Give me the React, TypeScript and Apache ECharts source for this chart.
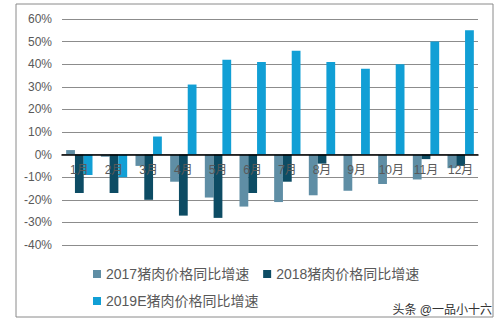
import React, { useEffect, useRef } from "react";
import * as echarts from "echarts";

const months = ["1月", "2月", "3月", "4月", "5月", "6月", "7月", "8月", "9月", "10月", "11月", "12月"];
const s2017 = [2, -1, -5, -12, -19, -23, -21, -18, -16, -13, -11, -6];
const s2018 = [-17, -17, -20, -27, -28, -17, -12, -4, 0, 0, -2, -5];
const s2019 = [-9, -10, 8, 31, 42, 41, 46, 41, 38, 40, 50, 55];
const seriesNames = ["2017猪肉价格同比增速", "2018猪肉价格同比增速", "2019E猪肉价格同比增速"];
const colors = ["#5f8ea5", "#0d4c64", "#119fd5"];
const FONT = "'Liberation Sans', 'Noto Sans CJK SC', sans-serif";

const Y_MIN = -40;
const Y_MAX = 60;
const GRID_TOP = 19;
const GRID_BOTTOM = 81;
const H = 326;

export default function App() {
  const ref = useRef<HTMLDivElement>(null);
  useEffect(() => {
    document.body.style.margin = "0";
    const chart = echarts.init(ref.current!, null, { renderer: "svg" });
    const values = [s2017, s2018, s2019];
    const gridH = H - GRID_TOP - GRID_BOTTOM;
    const zeroOffset = (-Y_MIN / (Y_MAX - Y_MIN)) * gridH;
    chart.setOption({
      animation: false,
      textStyle: { fontFamily: FONT },
      grid: { left: 62, right: 26, top: GRID_TOP, bottom: GRID_BOTTOM, containLabel: false },
      legend: [
        {
          data: [seriesNames[0], seriesNames[1]],
          left: 88,
          top: 262,
          itemWidth: 8,
          itemHeight: 8,
          itemGap: 14,
          icon: "rect",
          textStyle: { fontSize: 14, color: "#595959", fontFamily: FONT },
        },
        {
          data: [seriesNames[2]],
          left: 88,
          top: 289,
          itemWidth: 8,
          itemHeight: 8,
          icon: "rect",
          textStyle: { fontSize: 14, color: "#595959", fontFamily: FONT },
        },
      ],
      xAxis: {
        type: "category",
        data: months,
        offset: -zeroOffset,
        axisLine: { onZero: false, lineStyle: { color: "#000", width: 1.5 } },
        axisTick: { show: false },
        axisLabel: { color: "#595959", fontSize: 12, margin: 9 },
        z: 5,
      },
      yAxis: {
        type: "value",
        min: Y_MIN,
        max: Y_MAX,
        interval: 10,
        axisLine: { show: false },
        axisTick: { show: false },
        axisLabel: { formatter: "{value}%", color: "#595959", fontSize: 12, margin: 10 },
        splitLine: { lineStyle: { color: "#8c8c8c", width: 1 } },
      },
      graphic: [
        {
          type: "rect",
          shape: { x: 16, y: 4, width: 477, height: 313 },
          style: { fill: "none", stroke: "#8a8a8a", lineWidth: 1 },
          silent: true,
        },
        {
          type: "text",
          right: 12,
          top: 304,
          style: { text: "头条 @一品小十六", fontSize: 12, fill: "#333", fontFamily: FONT },
          silent: true,
        },
      ],
      series: seriesNames.map((name, i) => ({
        name,
        type: "bar",
        data: values[i],
        barGap: "0%",
        barCategoryGap: "24%",
        itemStyle: { color: colors[i] },
      })),
    });
    return () => chart.dispose();
  }, []);
  return <div ref={ref} style={{ width: 504, height: 326 }} />;
}
